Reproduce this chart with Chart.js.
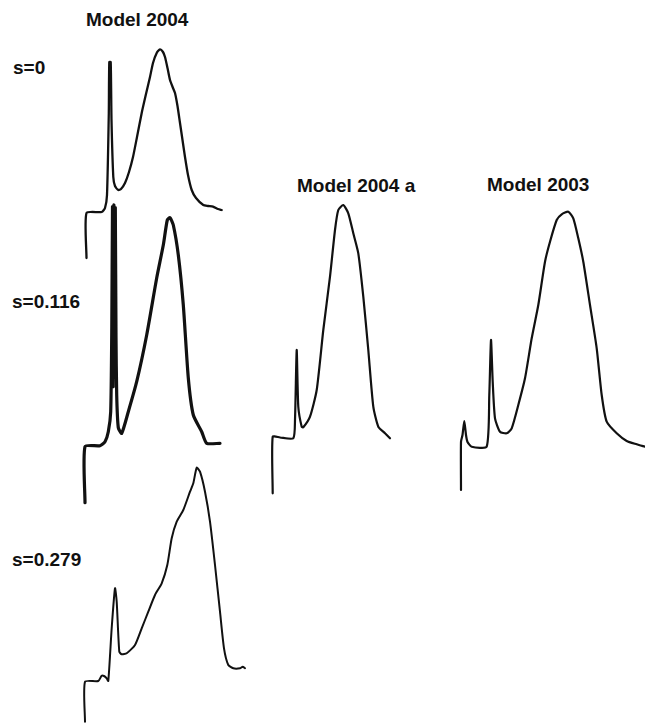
<!DOCTYPE html>
<html>
<head>
<meta charset="utf-8">
<script src="https://cdn.jsdelivr.net/npm/chart.js@4"></script>
<style>
  html, body { margin: 0; padding: 0; background: #fff; }
  #page { position: relative; width: 645px; height: 725px; overflow: hidden; }
  #page canvas { position: absolute; left: 0; top: 0; }
  .lbl {
    position: absolute;
    font-family: "Liberation Sans", Arial, sans-serif;
    font-weight: bold;
    font-size: 19px;
    line-height: 19px;
    color: #111;
    white-space: nowrap;
  }
</style>
</head>
<body>
<div id="page">
  <div class="lbl" style="left:86px; top:10px;">Model 2004</div>
  <div class="lbl" style="left:13px; top:58px;">s=0</div>
  <div class="lbl" style="left:12px; top:292px;">s=0.116</div>
  <div class="lbl" style="left:12px; top:550px;">s=0.279</div>
  <div class="lbl" style="left:297px; top:176px;">Model 2004 a</div>
  <div class="lbl" style="left:487px; top:175px;">Model 2003</div>
</div>
<script>
// time (x) and amplitude (y) for each trace, baseline start = 0,0
const m2004_s0_t = [0, 0, 15.2, 18.5, 20.5, 22.3, 22.8, 24.2, 25, 26.8, 28.5, 31.8, 34.5, 38.5, 42.5, 46.5, 50.5, 55.2, 59.5, 63.5, 66.5, 70.2, 73.5, 76.5, 78.5, 81, 83.5, 86.5, 88.5, 91, 93.5, 96, 98.5, 101.5, 105.2, 109.5, 116.8, 121.5, 126.5, 131.5, 135.2];
const m2004_s0_v = [-45, 0, 1, 5, 18, 100, 151, 151, 93, 36, 27, 23, 24, 30, 41, 56, 76, 100, 119, 136, 150, 160, 163.7, 161, 156, 145, 133, 125, 120, 107, 90, 73, 56, 38, 23, 15, 8, 7, 6.3, 4, 3];

const m2004_s116_t = [0, 0, 15, 20, 23.3, 25.7, 26.8, 27.5, 28.2, 28.9, 29.6, 30.3, 31, 31.7, 33.3, 36.7, 43.3, 51.7, 61.7, 71.7, 78.3, 82.3, 85, 88.3, 93.3, 98.3, 103.3, 108.3, 116.7, 121.7, 135];
const m2004_s116_v = [-56, 0, 1, 5, 15, 35, 120, 240, 60, 241.7, 70, 239, 110, 52, 19, 13.4, 35, 65, 111.7, 168.7, 201.7, 226.7, 229, 221.7, 191.7, 141.7, 68.7, 31.7, 15, 3.4, 3.4];

const m2004_s279_t = [0, 0, 13.3, 16.7, 19, 21.7, 23.3, 26.7, 30, 31.7, 34.3, 36.7, 41.7, 50, 56.7, 63.3, 70, 76.7, 82.3, 86.7, 91.7, 98.3, 105, 108.3, 111.7, 115, 120, 125, 130, 135, 139, 143.3, 148.3, 155, 157.7, 160];
const m2004_s279_v = [-40, 0, 0.7, 6, 5.7, 3.4, 0.7, 53.7, 93.4, 80, 30, 27.4, 28.4, 36.7, 53.4, 70, 86.7, 98.4, 116.7, 143.4, 160, 171.7, 190, 198.4, 214, 210, 190, 160, 116.7, 70, 33.4, 16.7, 13.4, 13.4, 15, 13.4];

const m2004a_t = [0, 0, 7.3, 20.6, 22.3, 24, 25.6, 29, 30.6, 37.3, 44, 50.6, 57.3, 62.3, 65.6, 70.6, 75.6, 80.6, 85.6, 90.6, 95.6, 100.6, 105.6, 112.3, 117.3];
const m2004a_v = [-56.6, 0, -0.8, -1.6, 16.7, 86.7, 30, 10, 9.4, 20, 46.7, 106.7, 160, 206.7, 226.7, 231.7, 223.4, 203.4, 183.4, 140, 86.7, 30, 10, 3.4, -1.6];

const m2003_t = [0, 0, 1.5, 3.3, 5, 6.5, 10.7, 25.7, 28.3, 30, 31.7, 34, 39, 45.7, 50.7, 57.3, 64, 70.7, 77.3, 84, 89, 95.7, 100.7, 107.3, 112.3, 117.3, 122.3, 129, 135.7, 140.7, 145.7, 155.7, 165.7, 175.7, 184];
const m2003_v = [-48.3, 0, 6.7, 20.7, 6.7, -0.3, -5, -5, 46.7, 101.7, 60, 23.4, 10, 8.4, 13.4, 36.7, 63.4, 103.4, 136.7, 180, 200, 221.7, 227.4, 230, 223.4, 203.4, 180, 136.7, 93.4, 46.7, 20, 8.4, 0.7, -2.6, -5];

const PAGE_W = 645, PAGE_H = 725;

// where each trace's origin sits on the page, plus stroke width
const traces = [
  { t: m2004_s0_t,   v: m2004_s0_v,   ox: 86.5,  oy: 213,   w: 2.3 },
  { t: m2004_s116_t, v: m2004_s116_v, ox: 85,    oy: 446.7, w: 3.2 },
  { t: m2004_s279_t, v: m2004_s279_v, ox: 85,    oy: 681.7, w: 2 },
  { t: m2004a_t,     v: m2004a_v,     ox: 272.7, oy: 436.7, w: 2.2 },
  { t: m2003_t,      v: m2003_v,      ox: 461,   oy: 441.7, w: 2.2 },
];

const page = document.getElementById('page');

traces.forEach(tr => {
  const cv = document.createElement('canvas');
  cv.width = PAGE_W;
  cv.height = PAGE_H;
  cv.style.width = PAGE_W + 'px';
  cv.style.height = PAGE_H + 'px';
  page.appendChild(cv);

  new Chart(cv, {
    type: 'scatter',
    data: {
      datasets: [{
        data: tr.t.map((x, i) => ({ x: x, y: tr.v[i] })),
        showLine: true,
        borderColor: '#111',
        borderWidth: tr.w,
        pointRadius: 0,
        tension: 0.2,
        fill: false,
        borderJoinStyle: 'round',
        borderCapStyle: 'round'
      }]
    },
    options: {
      responsive: false,
      animation: false,
      events: [],
      layout: { padding: 0 },
      plugins: { legend: { display: false }, tooltip: { enabled: false } },
      scales: {
        x: { type: 'linear', display: false, min: -tr.ox, max: PAGE_W - tr.ox },
        y: { type: 'linear', display: false, min: tr.oy - PAGE_H, max: tr.oy }
      }
    }
  });
});
</script>
</body>
</html>
